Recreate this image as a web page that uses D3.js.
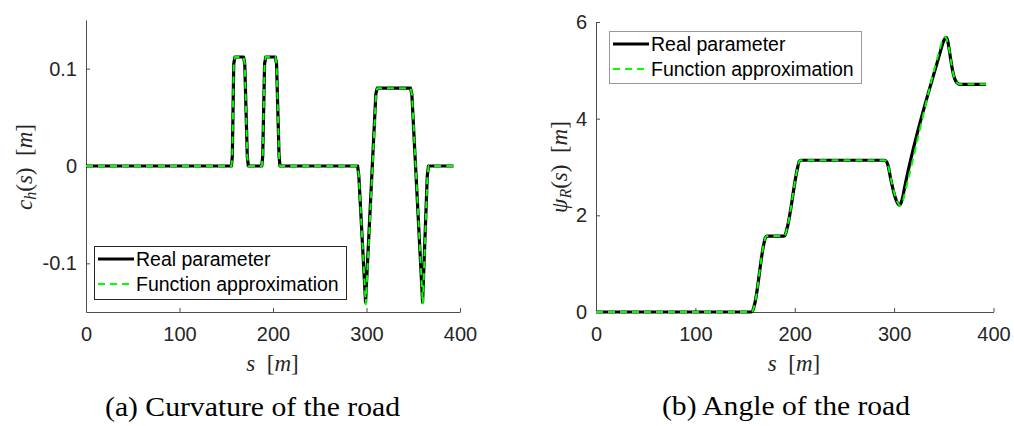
<!DOCTYPE html>
<html><head><meta charset="utf-8">
<script src="https://cdn.jsdelivr.net/npm/d3@7"></script>
<style>
html,body{margin:0;padding:0;background:#fff;}
svg{display:block;}
text{white-space:pre;}
</style></head>
<body>
<svg id="c" width="1014" height="426"></svg>
<script>
// ---- data ----
const sCurvReal = [0,155.5,156.5,158,159.3,168.5,169.8,172.5,173.6,188,189,191,192.3,202.5,203.8,206.5,207.5,290.5,291.8,299,310,311.5,347,348.5,360,365,366.3,393];
const cReal     = [0,0,0.01,0.105,0.112,0.112,0.105,0.01,0,0,0.01,0.105,0.112,0.112,0.105,0.01,0,0,-0.01,-0.14,0.074,0.08,0.08,0.074,-0.14,-0.01,0,0];
const sCurvApprox = [0,155.5,156.5,158,159.3,168.5,169.8,172.5,173.6,188,189,191,192.3,202.5,203.8,206.5,207.5,290.5,291.8,299.2,310.2,311.6,347,348.6,360.2,365.1,366.4,393];
const cApprox     = [0,0,0.01,0.105,0.112,0.112,0.105,0.01,0,0,0.01,0.105,0.112,0.112,0.105,0.01,0,0,-0.01,-0.142,0.074,0.08,0.08,0.074,-0.142,-0.01,0,0];

const sAngleReal = [0,156,157.5,159.5,169,170.5,172,189,190.5,192.5,203,204.5,206,290,292,294,296.6,300,303,305.3,306.8,308.5,310,312,346,348.5,350.5,352.3,353.8,355.5,357.5,359.5,361.5,363.5,366,392.5];
const psiReal    = [0,0,0.02,0.15,1.42,1.54,1.57,1.57,1.6,1.75,3.0,3.12,3.14,3.14,3.12,3.02,2.75,2.45,2.27,2.21,2.25,2.36,2.52,2.72,5.35,5.53,5.64,5.68,5.62,5.42,5.15,4.93,4.8,4.74,4.71,4.71];
const sAngleApprox = [0,156,157.5,159.5,169,170.5,172,189,190.5,192.5,203,204.5,206,290,292,294,296.8,300.3,303.5,306,307.5,309.5,311.5,314,345,347.5,349.8,351.8,353.5,355.5,357.5,359.5,361.5,363.5,366,392.5];
const psiApprox    = [0,0,0.02,0.15,1.42,1.54,1.57,1.57,1.6,1.75,3.0,3.12,3.14,3.14,3.12,3.02,2.75,2.45,2.27,2.2,2.23,2.35,2.52,2.73,5.37,5.55,5.66,5.69,5.6,5.42,5.15,4.93,4.8,4.74,4.71,4.71];

const xTicks = [0,100,200,300,400];
const xTickLabels = ["0","100","200","300","400"];
const yTicksA = [-0.1,0,0.1];
const yTickLabelsA = ["-0.1","0","0.1"];
const yTicksB = [0,2,4,6];
const yTickLabelsB = ["0","2","4","6"];
const legendLabels = ["Real parameter","Function approximation"];
const captions = ["(a) Curvature of the road","(b) Angle of the road"];

// ---- drawing ----
const svg = d3.select("#c");
const SANS = "'Liberation Sans', Arial, sans-serif";
const SERIF = "'Liberation Serif', 'Times New Roman', serif";
const GREEN = "#00ff00";
const DASH = "7,5";

function panel(cfg){
  const x = d3.scaleLinear().domain([0,400]).range([cfg.x0, cfg.x1]);
  const y = d3.scaleLinear().domain(cfg.yDom).range([cfg.yBot, cfg.yTop]);
  const g = svg.append("g");

  const xa = d3.axisBottom(x).tickValues(xTicks).tickFormat((d,i)=>xTickLabels[i])
    .tickSizeInner(-4).tickSizeOuter(0).tickPadding(15);
  const ya = d3.axisLeft(y).tickValues(cfg.yTicks).tickFormat((d,i)=>cfg.yLabels[i])
    .tickSizeInner(-4).tickSizeOuter(0).tickPadding(9);
  const gx = g.append("g").attr("transform",`translate(0,${cfg.yBot})`).call(xa);
  const gy = g.append("g").attr("transform",`translate(${cfg.x0},0)`).call(ya);
  [gx,gy].forEach(a=>{
    a.select(".domain").attr("stroke","#4d4d4d");
    a.selectAll(".tick line").attr("stroke","#4d4d4d");
    a.selectAll("text").attr("font-family",SANS).attr("font-size",20).attr("fill","#262626");
  });

  const line = d3.line().x(d=>x(d[0])).y(d=>y(d[1])).curve(cfg.curve);
  const real = cfg.sReal.map((s,i)=>[s,cfg.vReal[i]]);
  const appr = cfg.sAppr.map((s,i)=>[s,cfg.vAppr[i]]);
  g.append("path").attr("d",line(real)).attr("fill","none").attr("stroke","#000")
    .attr("stroke-width",3.2).attr("stroke-linejoin","round");
  g.append("path").attr("d",line(appr)).attr("fill","none").attr("stroke",GREEN)
    .attr("stroke-width",2).attr("stroke-dasharray",DASH).attr("stroke-linejoin","round");

  // legend
  const L = cfg.legend;
  g.append("rect").attr("x",L.x+0.5).attr("y",L.y+0.5).attr("width",L.w).attr("height",L.h)
    .attr("fill","#fff").attr("stroke",L.stroke).attr("stroke-width",1);
  const rows = [{dy:13, stroke:"#000", w:3.2, dash:null},{dy:38, stroke:GREEN, w:2, dash:DASH}];
  rows.forEach((r,i)=>{
    g.append("line").attr("x1",L.x+4).attr("x2",L.x+40).attr("y1",L.y+r.dy).attr("y2",L.y+r.dy)
      .attr("stroke",r.stroke).attr("stroke-width",r.w).attr("stroke-dasharray",r.dash);
    g.append("text").attr("x",L.x+42).attr("y",L.y+r.dy).attr("dy","0.35em")
      .attr("font-family",SANS).attr("font-size",19.5).attr("fill","#000").text(legendLabels[i]);
  });

  // x label  s [m]
  const xl = g.append("text").attr("x",cfg.xlab[0]).attr("y",cfg.xlab[1]).attr("text-anchor","middle")
    .attr("font-family",SERIF).attr("font-size",23).attr("fill","#262626");
  xl.append("tspan").attr("font-style","italic").text("s");
  xl.append("tspan").text("  [");
  xl.append("tspan").attr("font-style","italic").text("m");
  xl.append("tspan").text("]");

  // y label
  const yl = g.append("text").attr("transform",`translate(${cfg.ylab[0]},${cfg.ylab[1]}) rotate(-90)`)
    .attr("text-anchor","middle").attr("font-family",SERIF).attr("font-size",23).attr("fill","#262626");
  yl.append("tspan").attr("font-style","italic").text(cfg.ysym);
  yl.append("tspan").attr("font-style","italic").attr("font-size",16).attr("dy",4).text(cfg.ysub);
  yl.append("tspan").attr("dy",-4).text("(");
  yl.append("tspan").attr("font-style","italic").text("s");
  yl.append("tspan").text(")  [");
  yl.append("tspan").attr("font-style","italic").text("m");
  yl.append("tspan").text("]");

  // caption
  g.append("text").attr("x",cfg.cap[0]).attr("y",cfg.cap[1]).attr("text-anchor","middle")
    .attr("font-family",SERIF).attr("font-size",27).attr("fill","#000")
    .attr("textLength",cfg.cap[2]).attr("lengthAdjust","spacingAndGlyphs").text(cfg.caption);
}

panel({x0:86,x1:460,yBot:312,yTop:20,yDom:[-0.15,0.15],yTicks:yTicksA,yLabels:yTickLabelsA,
  sReal:sCurvReal,vReal:cReal,sAppr:sCurvApprox,vAppr:cApprox,curve:d3.curveLinear,
  legend:{x:94,y:246,w:252,h:53,stroke:"#262626"},
  xlab:[272.5,371],ylab:[32,167],ysym:"c",ysub:"h",cap:[252.5,416,295],caption:captions[0]});

panel({x0:596,x1:993.5,yBot:312,yTop:22,yDom:[0,6],yTicks:yTicksB,yLabels:yTickLabelsB,
  sReal:sAngleReal,vReal:psiReal,sAppr:sAngleApprox,vAppr:psiApprox,curve:d3.curveMonotoneX,
  legend:{x:609,y:31,w:252,h:52,stroke:"#999"},
  xlab:[794,371],ylab:[567,167],ysym:"ψ",ysub:"R",cap:[786,415,248],caption:captions[1]});
</script>
</body></html>
